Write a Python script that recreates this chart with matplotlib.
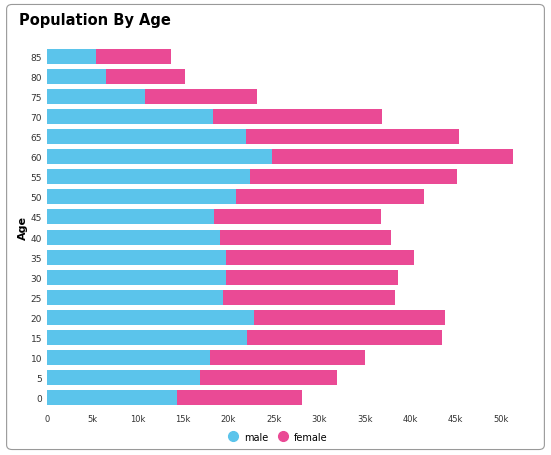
import matplotlib
matplotlib.use("Agg")
import matplotlib.pyplot as plt
from matplotlib.patches import FancyBboxPatch
from matplotlib.lines import Line2D

ages = ["0","5","10","15","20","25","30","35","40","45","50","55","60","65","70","75","80","85"]
male = [14.3,16.9,18.0,22.1,22.8,19.4,19.7,19.7,19.1,18.4,20.8,22.4,24.8,21.9,18.3,10.8,6.5,5.4]
total = [28.1,32.0,35.0,43.5,43.9,38.3,38.7,40.4,37.9,36.8,41.6,45.2,51.3,45.4,36.9,23.2,15.2,13.7]
female = [t - m for t, m in zip(total, male)]
ticks = [0,5,10,15,20,25,30,35,40,45,50]
tick_labels = ["0","5k","10k","15k","20k","25k","30k","35k","40k","45k","50k"]

cm, cf = "#5bc4eb", "#ea4a95"
fig = plt.figure(figsize=(5.51,4.56), dpi=100)
fig.patches.append(FancyBboxPatch((0.012,0.012),0.976,0.976, boxstyle="round,pad=0,rounding_size=0.01",
                                  transform=fig.transFigure, fill=False, ec="#999999", lw=0.8))
ax = fig.add_axes([0.085,0.10,0.865,0.80])
y = range(len(ages))
ax.barh(y, male, color=cm, height=0.75)
ax.barh(y, female, left=male, color=cf, height=0.75)
ax.set_yticks(list(y)); ax.set_yticklabels(ages, fontsize=6.5)
ax.set_xticks(ticks); ax.set_xticklabels(tick_labels, fontsize=6)
ax.set_xlim(0, 52.5); ax.set_ylim(-0.6, 17.6)
ax.set_ylabel("Age", fontsize=8, fontweight="bold", labelpad=2)
for s in ax.spines.values(): s.set_visible(False)
ax.tick_params(length=0, colors="#333333")
fig.text(0.035, 0.955, "Population By Age", fontsize=10.5, fontweight="bold", va="center")
handles = [Line2D([],[],marker="o",ls="",color=cm,markersize=7,label="male"),
           Line2D([],[],marker="o",ls="",color=cf,markersize=7,label="female")]
fig.legend(handles=handles, loc="center", bbox_to_anchor=(0.5,0.04), ncol=2, frameon=False,
           fontsize=7, handletextpad=0.1, columnspacing=0.5)
fig.savefig("out.png", dpi=100)
